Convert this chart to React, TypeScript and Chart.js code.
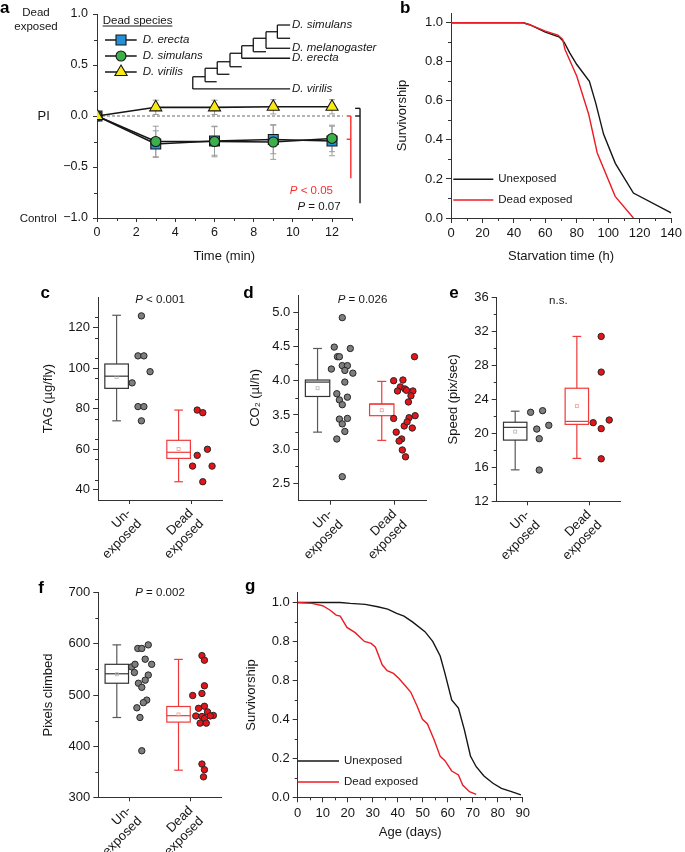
import React, { useEffect, useRef } from "react";
import { Chart, registerables } from "chart.js";

Chart.register(...registerables);

const FONT = "'Liberation Sans', Arial, Helvetica, sans-serif";

// ===== Panel a: preference index over time =====
const aTimes = [0, 3, 6, 9, 12];
const aErecta = [0, -0.275, -0.245, -0.23, -0.245];
const aErectaErr = [0, 0.13, 0.14, 0.14, 0.145];
const aSimulans = [0, -0.25, -0.25, -0.255, -0.22];
const aSimulansErr = [0, 0.15, 0.15, 0.17, 0.13];
const aVirilis = [0, 0.085, 0.085, 0.09, 0.09];
const aVirilisErr = [0, 0.07, 0.07, 0.07, 0.07];
const aXTicks = [0, 2, 4, 6, 8, 10, 12];
const aXTickLabels = ["0", "2", "4", "6", "8", "10", "12"];
const aYTicks = [-1, -0.5, 0, 0.5, 1];
const aYTickLabels = ["\u22121.0", "\u22120.5", "0.0", "0.5", "1.0"];
const aLegend = ["D. erecta", "D. simulans", "D. virilis"];
const aTreeTaxa = ["D. simulans", "D. melanogaster", "D. erecta", "D. virilis"];

// ===== Panel b: starvation survivorship =====
const bHoursUn = [0, 46, 50, 60, 69, 72, 75.5, 80, 88, 92, 97, 104.5, 116, 140];
const bSurvUn = [1, 1, 0.99, 0.952, 0.926, 0.9, 0.846, 0.786, 0.7, 0.59, 0.43, 0.28, 0.128, 0.026];
const bHoursDead = [0, 46, 50, 60, 68, 71, 72.5, 80, 87.6, 93, 104.4, 116];
const bSurvDead = [1, 1, 0.99, 0.957, 0.937, 0.915, 0.863, 0.726, 0.53, 0.333, 0.111, 0];
const bXTicks = [0, 20, 40, 60, 80, 100, 120, 140];
const bXTickLabels = ["0", "20", "40", "60", "80", "100", "120", "140"];
const survTicks = [0, 0.2, 0.4, 0.6, 0.8, 1.0];
const bYTickLabels = ["0.0", "0.2", "0.4", "0.6", "0.8", "1.0"];
const groupNames = ["Unexposed", "Dead exposed"];

// ===== Box panels: shared categories =====
const boxCategories = [["Un-", "exposed"], ["Dead", "exposed"]];
const categoryTicks = [1, 3];
const boxCenters = [0.6, 2.6];

// ===== Panel c: TAG =====
const cUnX = [1.4, 1.29, 1.48, 1.68, 1.1, 1.29, 1.48, 1.4];
const cUnY = [125.7, 106, 106, 98.2, 92.7, 81, 81, 74];
const cDeadX = [3.2, 3.38, 3.2, 3.53, 3.05, 3.68, 3.38];
const cDeadY = [79.3, 78, 57, 60, 51.7, 51.7, 44];
const cUnBox = [74, 90, 96, 102, 126, 95.6]; // min, q1, median, q3, max, mean
const cDeadBox = [44, 55.5, 58.5, 64.4, 79.3, 60.1];
const cYTicks = [40, 60, 80, 100, 120];
const cYTickLabels = ["40", "60", "80", "100", "120"];

// ===== Panel d: CO2 =====
const dUnX = [1.37, 1.12, 1.22, 1.28, 1.62, 1.03, 1.37, 1.53, 1.7, 1.45, 1.45, 1.2, 1.28, 1.53, 1.37, 1.28, 1.53, 1.37, 1.45, 1.2, 1.37];
const dUnY = [4.92, 4.49, 4.35, 4.35, 4.47, 4.17, 4.22, 4.22, 4.11, 4.15, 3.98, 3.81, 3.72, 3.76, 3.65, 3.44, 3.45, 3.37, 3.26, 3.15, 2.6];
const dDeadX = [3.62, 2.97, 3.26, 3.18, 3.32, 3.09, 3.57, 3.37, 3.51, 3.43, 2.97, 3.45, 3.64, 3.3, 3.39, 3.55, 3.05, 3.22, 3.14, 3.24, 3.34];
const dDeadY = [4.35, 4.0, 4.01, 3.91, 3.88, 3.85, 3.85, 3.86, 3.78, 3.69, 3.45, 3.46, 3.49, 3.34, 3.4, 3.31, 3.25, 3.15, 3.12, 2.99, 2.89];
const dUnBox = [3.25, 3.77, 3.98, 4.01, 4.47, 3.89];
const dDeadBox = [3.13, 3.49, 3.66, 3.66, 3.99, 3.57];
const dYTicks = [2.5, 3.0, 3.5, 4.0, 4.5, 5.0];
const dYTickLabels = ["2.5", "3.0", "3.5", "4.0", "4.5", "5.0"];

// ===== Panel e: speed =====
const eUnX = [1.1, 1.49, 1.3, 1.69, 1.38, 1.38];
const eUnY = [22.47, 22.66, 20.5, 20.94, 19.37, 15.68];
const eDeadX = [3.39, 3.39, 3.13, 3.65, 3.39, 3.39];
const eDeadY = [31.4, 27.2, 21.25, 21.56, 20.55, 17.0];
const eUnBox = [15.7, 19.2, 20.7, 21.3, 22.6, 20.2];
const eDeadBox = [17.05, 21.05, 21.4, 25.3, 31.4, 23.2];
const eYTicks = [12, 16, 20, 24, 28, 32, 36];
const eYTickLabels = ["12", "16", "20", "24", "28", "32", "36"];

// ===== Panel f: climbing =====
const fUnX = [1.28, 1.41, 1.62, 1.52, 1.08, 1.19, 1.73, 1.17, 1.62, 1.52, 1.3, 1.41, 1.57, 1.46, 1.25, 1.35, 1.41];
const fUnY = [591, 591, 598, 570, 555, 560, 560, 544, 539, 529, 523, 515, 490, 485, 475, 456, 391];
const fDeadX = [3.36, 3.44, 3.44, 3.36, 3.06, 3.44, 3.25, 3.54, 3.16, 3.36, 3.73, 3.63, 3.44, 3.3, 3.5, 3.36, 3.44, 3.41];
const fDeadY = [577, 568, 518, 503, 499, 478, 474, 467, 459, 458, 460, 459, 454, 445, 445, 365, 354, 340];
const fUnBox = [456, 523, 541.5, 560, 598, 540.5];
const fDeadBox = [353, 447, 459.6, 477.5, 569.6, 462];
const fYTicks = [300, 400, 500, 600, 700];
const fYTickLabels = ["300", "400", "500", "600", "700"];

// ===== Panel g: lifespan =====
const gAgeUn = [0, 17, 21, 27, 32, 36, 39.6, 42.5, 45.9, 50.9, 54, 57, 58.9, 61.6, 64.3, 66.7, 69.1, 71.4, 74.5, 78.1, 81.5, 85.5, 89.3];
const gSurvUn = [1, 1, 0.995, 0.99, 0.978, 0.966, 0.944, 0.93, 0.9, 0.85, 0.8, 0.725, 0.636, 0.5, 0.458, 0.345, 0.212, 0.157, 0.109, 0.072, 0.046, 0.029, 0.012];
const gAgeDead = [0, 5.6, 10, 13, 15.4, 17, 19.7, 23, 26.7, 29.4, 31.1, 33.8, 35.8, 38.3, 40.5, 42.5, 45.2, 47.7, 49.9, 51.9, 54.6, 57, 58.9, 61.6, 64.3, 66, 68.7, 71.4];
const gSurvDead = [1, 0.995, 0.983, 0.96, 0.935, 0.93, 0.872, 0.845, 0.8, 0.79, 0.77, 0.68, 0.65, 0.636, 0.61, 0.58, 0.54, 0.47, 0.4, 0.376, 0.294, 0.21, 0.188, 0.135, 0.115, 0.063, 0.029, 0.015];
const gXTicks = [0, 10, 20, 30, 40, 50, 60, 70, 80, 90];
const gXTickLabels = ["0", "10", "20", "30", "40", "50", "60", "70", "80", "90"];
const gYTickLabels = ["0.0", "0.2", "0.4", "0.8", "0.8", "1.0"];

// ===== styles =====
const INK = "#161616";
const RED = "#ec1c24";
const BLUE = "#2490d8";
const GREEN = "#3cae4a";
const YELLOW = "#fbea12";
const UN_BOX = "#333333";
const UN_WHISK = "#595959";
const UN_MEAN = "#b5b5b5";
const DEAD_BOX = "#f03a3a";
const DEAD_MEAN = "#f49a9a";
const UN_DOT = "#7e7e7e";
const DEAD_DOT = "#e4141b";
const DOT_EDGE = "#262626";

const pts = (xs: number[], ys: number[]) => xs.map((x, i) => ({ x, y: ys[i] }));
const between = (min: number, max: number, step: number, majors: number[]) => {
  const out: number[] = [];
  for (let v = min; v <= max + 1e-9; v += step) {
    const r = Math.round(v * 1000) / 1000;
    if (!majors.some((m) => Math.abs(m - r) < 1e-6)) out.push(r);
  }
  return out;
};

function seg(ctx: CanvasRenderingContext2D, x1: number, y1: number, x2: number, y2: number) {
  ctx.beginPath();
  ctx.moveTo(x1, y1);
  ctx.lineTo(x2, y2);
  ctx.stroke();
}

function txt(ctx: any, s: string, x: number, y: number, o: any = {}) {
  ctx.font = `${o.italic ? "italic " : ""}${o.bold ? "bold " : ""}${o.size || 12}px ${FONT}`;
  ctx.fillStyle = o.color || INK;
  ctx.textAlign = o.align || "left";
  ctx.textBaseline = o.baseline || "middle";
  ctx.fillText(s, x, y);
}

function mixed(ctx: any, parts: [string, boolean][], x: number, y: number, align: string, size: number, color: string) {
  const widths = parts.map(([s, it]) => {
    ctx.font = `${it ? "italic " : ""}${size}px ${FONT}`;
    return ctx.measureText(s).width;
  });
  const w = widths.reduce((a, b) => a + b, 0);
  let cx = align === "right" ? x - w : align === "center" ? x - w / 2 : x;
  parts.forEach(([s, it], i) => {
    txt(ctx, s, cx, y, { italic: it, size, color });
    cx += widths[i];
  });
}

function letter(ctx: any, ch: string, x: number, y: number) {
  txt(ctx, ch, x, y, { bold: true, size: 17, baseline: "alphabetic", color: "#000" });
}

function minor(chart: any, id: string, vals: number[], len: number) {
  const s = chart.scales[id];
  const ctx = chart.ctx;
  ctx.strokeStyle = "#333";
  ctx.lineWidth = 1;
  vals.forEach((v) => {
    const p = Math.round(s.getPixelForValue(v)) + 0.5;
    if (s.isHorizontal()) seg(ctx, p, s.top, p, s.top + len);
    else seg(ctx, s.right - len, p, s.right, p);
  });
}

function axis(o: any) {
  const horiz = o.horizontal;
  return {
    type: "linear",
    position: horiz ? "bottom" : "left",
    min: o.min,
    max: o.max,
    afterBuildTicks: (s: any) => {
      s.ticks = o.ticks.map((v: number) => ({ value: v }));
    },
    afterFit: (s: any) => {
      if (horiz) s.height = o.size;
      else s.width = o.size;
    },
    ticks: {
      autoSkip: false,
      maxRotation: o.rotation || 0,
      minRotation: o.rotation || 0,
      padding: o.pad ?? 3,
      color: INK,
      font: { size: o.fontSize ?? 13, family: FONT, lineHeight: o.lineHeight ?? 1.2 },
      callback: (_v: any, i: number) => o.labels[i],
    },
    grid: {
      display: true,
      drawOnChartArea: false,
      drawTicks: true,
      tickLength: o.tickLen ?? 5,
      color: "#333",
      tickColor: "#333",
      lineWidth: 1,
    },
    border: { display: true, color: "#333", width: 1 },
    title: o.title
      ? {
          display: true,
          text: o.title,
          color: INK,
          font: { size: 13, family: FONT, lineHeight: 1.2 },
          padding: { top: 0, bottom: o.titlePad ?? 0 },
        }
      : { display: false },
  };
}

function baseOptions(padding: any, x: any, y: any) {
  return {
    responsive: false,
    maintainAspectRatio: false,
    animation: false,
    events: [],
    layout: { padding, autoPadding: false },
    plugins: { legend: { display: false }, tooltip: { enabled: false }, title: { display: false } },
    scales: { x, y },
  };
}

function lineLegend(ctx: any, ca: any, x0: number, x1: number, tx: number, y1: number, y2: number) {
  ctx.lineWidth = 1.5;
  ctx.strokeStyle = INK;
  seg(ctx, ca.left + x0, ca.bottom - y1, ca.left + x1, ca.bottom - y1);
  ctx.strokeStyle = RED;
  seg(ctx, ca.left + x0, ca.bottom - y2, ca.left + x1, ca.bottom - y2);
  txt(ctx, groupNames[0], ca.left + tx, ca.bottom - y1, { size: 11.5 });
  txt(ctx, groupNames[1], ca.left + tx, ca.bottom - y2, { size: 11.5 });
}

function marker(ctx: any, kind: string, x: number, y: number, fill: string) {
  ctx.fillStyle = fill;
  ctx.strokeStyle = INK;
  ctx.lineWidth = 1.1;
  ctx.beginPath();
  if (kind === "rect") ctx.rect(x - 5, y - 5, 10, 10);
  else if (kind === "circle") ctx.arc(x, y, 5, 0, Math.PI * 2);
  else {
    ctx.moveTo(x, y - 7);
    ctx.lineTo(x + 6.1, y + 3.5);
    ctx.lineTo(x - 6.1, y + 3.5);
    ctx.closePath();
  }
  ctx.fill();
  ctx.stroke();
}

// ---------- panel a ----------
const treeSegments = [
  [4.89, 0.385, 4.89, 0.265], [4.89, 0.265, 9.86, 0.265], [4.89, 0.385, 5.52, 0.385],
  [5.52, 0.468, 5.52, 0.336], [5.52, 0.336, 6.11, 0.336], [5.52, 0.468, 6.14, 0.468],
  [6.14, 0.532, 6.14, 0.409], [6.14, 0.409, 6.76, 0.409], [6.14, 0.532, 6.79, 0.532],
  [6.79, 0.615, 6.79, 0.483], [6.79, 0.483, 7.39, 0.483], [6.79, 0.615, 7.39, 0.615],
  [7.39, 0.689, 7.39, 0.566], [7.39, 0.566, 9.86, 0.566], [7.39, 0.689, 7.98, 0.689],
  [7.98, 0.762, 7.98, 0.63], [7.98, 0.63, 8.63, 0.63], [7.98, 0.762, 8.63, 0.762],
  [8.63, 0.826, 8.63, 0.664], [8.63, 0.664, 9.86, 0.664], [8.63, 0.826, 9.21, 0.826],
  [9.21, 0.892, 9.21, 0.762], [9.21, 0.892, 9.86, 0.892], [9.21, 0.762, 9.86, 0.762],
];
const treeLabelY = [0.892, 0.664, 0.566, 0.265];

function makeA() {
  const ds = (label: string, ys: number[], style: string, fill: string, r: number, order: number) => ({
    label,
    data: pts(aTimes, ys),
    showLine: true,
    borderColor: INK,
    borderWidth: 1.6,
    pointStyle: style,
    pointRadius: r,
    pointBackgroundColor: fill,
    pointBorderColor: INK,
    pointBorderWidth: 1.1,
    order,
  });
  return {
    type: "scatter",
    data: {
      datasets: [
        ds(aLegend[0], aErecta, "rect", BLUE, 7, 2),
        ds(aLegend[1], aSimulans, "circle", GREEN, 5, 1),
        ds(aLegend[2], aVirilis, "triangle", YELLOW, 7, 0),
      ],
    },
    options: baseOptions(
      { left: 0, top: 14, right: 43.4, bottom: 0 },
      axis({ horizontal: true, min: 0, max: 13, ticks: aXTicks, labels: aXTickLabels, size: 52, title: "Time (min)", titlePad: 6.2, fontSize: 12.5, tickLen: 4 }),
      axis({ horizontal: false, min: -1, max: 1, ticks: aYTicks, labels: aYTickLabels, size: 97, fontSize: 12.5, pad: 5, tickLen: 4 })
    ),
    plugins: [
      {
        id: "extrasA",
        beforeDatasetsDraw(chart: any) {
          const ctx = chart.ctx;
          const X = chart.scales.x;
          const Y = chart.scales.y;
          ctx.save();
          ctx.strokeStyle = "#444";
          ctx.lineWidth = 0.8;
          ctx.setLineDash([3, 2]);
          seg(ctx, X.getPixelForValue(0), Y.getPixelForValue(0), X.getPixelForValue(12.56), Y.getPixelForValue(0));
          ctx.setLineDash([]);
          ctx.strokeStyle = "#9c9c9c";
          ctx.lineWidth = 1;
          const sets: [number[], number[]][] = [[aErecta, aErectaErr], [aSimulans, aSimulansErr], [aVirilis, aVirilisErr]];
          sets.forEach(([m, e]) =>
            aTimes.forEach((t, i) => {
              if (!e[i]) return;
              const px = X.getPixelForValue(t);
              const top = Y.getPixelForValue(m[i] + e[i]);
              const bot = Y.getPixelForValue(m[i] - e[i]);
              seg(ctx, px, top, px, bot);
              seg(ctx, px - 3, top, px + 3, top);
              seg(ctx, px - 3, bot, px + 3, bot);
            })
          );
          ctx.restore();
        },
        afterDraw(chart: any) {
          const ctx = chart.ctx;
          const X = chart.scales.x;
          const Y = chart.scales.y;
          const ca = chart.chartArea;
          const px = (v: number) => X.getPixelForValue(v);
          const py = (v: number) => Y.getPixelForValue(v);
          ctx.save();
          minor(chart, "x", between(0, 13, 1, aXTicks), 3);
          minor(chart, "y", between(-1, 1, 0.25, aYTicks), 3);
          // side labels
          txt(ctx, "Dead", ca.left - 61, py(1) - 0.7, { size: 11.5, align: "center" });
          txt(ctx, "exposed", ca.left - 61, py(1) + 13, { size: 11.5, align: "center" });
          txt(ctx, "PI", ca.left - 53.3, py(0), { size: 13, align: "center" });
          txt(ctx, "Control", ca.left - 40.3, py(-1) + 1, { size: 11.5, align: "right" });
          // legend
          txt(ctx, "Dead species", ca.left + 5.7, ca.top + 6.5, { size: 11.5 });
          ctx.strokeStyle = INK;
          ctx.lineWidth = 1;
          ctx.font = `11.5px ${FONT}`;
          const w = ctx.measureText("Dead species").width;
          seg(ctx, ca.left + 5.7, ca.top + 12, ca.left + 5.7 + w, ca.top + 12);
          const kinds = ["rect", "circle", "triangle"];
          const fills = [BLUE, GREEN, YELLOW];
          aLegend.forEach((name, i) => {
            const yy = ca.top + 26 + i * 16;
            ctx.strokeStyle = INK;
            ctx.lineWidth = 1.5;
            seg(ctx, ca.left + 8, yy, ca.left + 39.7, yy);
            marker(ctx, kinds[i], ca.left + 24, yy, fills[i]);
            txt(ctx, name, ca.left + 45.7, yy, { size: 11.5, italic: true });
          });
          // tree
          ctx.strokeStyle = INK;
          ctx.lineWidth = 1.3;
          treeSegments.forEach(([x1, y1, x2, y2]) => seg(ctx, px(x1), py(y1), px(x2), py(y2)));
          aTreeTaxa.forEach((name, i) => txt(ctx, name, px(9.96), py(treeLabelY[i]), { size: 11.5, italic: true }));
          // significance brackets
          ctx.strokeStyle = "#ff2a2a";
          ctx.lineWidth = 1.4;
          seg(ctx, px(12.96), py(0), px(12.96), py(-0.611));
          seg(ctx, px(12.75), py(0), px(12.96), py(0));
          seg(ctx, px(12.75), py(-0.228), px(12.96), py(-0.228));
          ctx.strokeStyle = INK;
          seg(ctx, px(13.43), py(0.075), px(13.43), py(-0.856));
          seg(ctx, px(13.18), py(0.075), px(13.43), py(0.075));
          seg(ctx, px(13.18), py(0), px(13.43), py(0));
          mixed(ctx, [["P", true], [" < 0.05", false]], px(12.05), py(-0.732), "right", 11.5, "#ff2a2a");
          mixed(ctx, [["P", true], [" = 0.07", false]], px(12.44), py(-0.895), "right", 11.5, INK);
          letter(ctx, "a", 0, 13);
          ctx.restore();
        },
      },
    ],
  };
}

// ---------- panel b ----------
function makeB() {
  return {
    type: "scatter",
    data: {
      datasets: [
        { label: groupNames[1], data: pts(bHoursDead, bSurvDead), showLine: true, borderColor: RED, borderWidth: 1.4, pointRadius: 0 },
        { label: groupNames[0], data: pts(bHoursUn, bSurvUn), showLine: true, borderColor: INK, borderWidth: 1.4, pointRadius: 0 },
      ],
    },
    options: baseOptions(
      { left: 30, top: 13, right: 12, bottom: 0 },
      axis({ horizontal: true, min: 0, max: 140, ticks: bXTicks, labels: bXTickLabels, size: 57, title: "Starvation time (h)", titlePad: 11.2 }),
      axis({ horizontal: false, min: 0, max: 1.05, ticks: survTicks, labels: bYTickLabels, size: 56, title: "Survivorship" })
    ),
    plugins: [
      {
        id: "extrasB",
        afterDraw(chart: any) {
          const ctx = chart.ctx;
          ctx.save();
          minor(chart, "x", between(0, 140, 10, bXTicks), 3);
          minor(chart, "y", between(0, 1, 0.1, survTicks), 3);
          lineLegend(ctx, chart.chartArea, 2.3, 42.3, 47.3, 38.7, 18);
          letter(ctx, "b", 35, 13);
          ctx.restore();
        },
      },
    ],
  };
}

// ---------- box panels ----------
function drawBox(chart: any, st: number[], xc: number, col: string, wcol: string, mcol: string) {
  const ctx = chart.ctx;
  const X = chart.scales.x;
  const Y = chart.scales.y;
  const [mn, q1, med, q3, mx, mean] = st;
  const px = (v: number) => X.getPixelForValue(v);
  const py = (v: number) => Y.getPixelForValue(v);
  const cx = px(xc);
  ctx.lineWidth = 1.2;
  ctx.strokeStyle = wcol;
  seg(ctx, cx, py(q3), cx, py(mx));
  seg(ctx, cx, py(q1), cx, py(mn));
  seg(ctx, px(xc - 0.14), py(mx), px(xc + 0.14), py(mx));
  seg(ctx, px(xc - 0.14), py(mn), px(xc + 0.14), py(mn));
  ctx.strokeStyle = col;
  ctx.strokeRect(px(xc - 0.38), py(q3), px(xc + 0.38) - px(xc - 0.38), py(q1) - py(q3));
  seg(ctx, px(xc - 0.38), py(med), px(xc + 0.38), py(med));
  ctx.lineWidth = 0.8;
  ctx.strokeStyle = mcol;
  ctx.strokeRect(cx - 1.5, py(mean) - 1.5, 3, 3);
}

function makeBox(p: any) {
  return () => ({
    type: "scatter",
    data: {
      datasets: [
        { label: groupNames[0], data: pts(p.unX, p.unY), pointRadius: 3.2, pointBackgroundColor: UN_DOT, pointBorderColor: DOT_EDGE, pointBorderWidth: 1 },
        { label: groupNames[1], data: pts(p.deadX, p.deadY), pointRadius: 3.2, pointBackgroundColor: DEAD_DOT, pointBorderColor: DOT_EDGE, pointBorderWidth: 1 },
      ],
    },
    options: baseOptions(
      p.padding,
      axis({ horizontal: true, min: 0, max: 4, ticks: categoryTicks, labels: boxCategories, size: p.xSize, rotation: 45, pad: 2, tickLen: 4, lineHeight: 1.15 }),
      axis({ horizontal: false, min: p.yMin, max: p.yMax, ticks: p.yTicks, labels: p.yLabels, size: p.ySize, title: p.yTitle })
    ),
    plugins: [
      {
        id: "box",
        beforeDatasetsDraw(chart: any) {
          chart.ctx.save();
          drawBox(chart, p.unBox, boxCenters[0], UN_BOX, UN_WHISK, UN_MEAN);
          drawBox(chart, p.deadBox, boxCenters[1], DEAD_BOX, DEAD_BOX, DEAD_MEAN);
          chart.ctx.restore();
        },
        afterDraw(chart: any) {
          const ctx = chart.ctx;
          ctx.save();
          minor(chart, "y", p.minor, 3);
          mixed(ctx, p.note, chart.scales.x.getPixelForValue(2), chart.chartArea.top + p.noteDy, "center", 11.5, INK);
          letter(ctx, p.letter, p.letterX, p.letterY);
          ctx.restore();
        },
      },
    ],
  });
}

const makeC = makeBox({
  unX: cUnX, unY: cUnY, deadX: cDeadX, deadY: cDeadY, unBox: cUnBox, deadBox: cDeadBox,
  padding: { left: 40.5, top: 17, right: 10, bottom: 0 }, ySize: 57.5, xSize: 70,
  yMin: 35, yMax: 135, yTicks: cYTicks, yLabels: cYTickLabels, minor: between(35, 135, 10, cYTicks).filter((v) => v > 35 && v < 135),
  yTitle: "TAG (\u00b5g/fly)", note: [["P", true], [" < 0.001", false]], noteDy: 3, letter: "c", letterX: 40.5, letterY: 17.7,
});
const makeD = makeBox({
  unX: dUnX, unY: dUnY, deadX: dDeadX, deadY: dDeadY, unBox: dUnBox, deadBox: dDeadBox,
  padding: { left: 15.2, top: 15, right: 5.3, bottom: 0 }, ySize: 51.1, xSize: 69.3,
  yMin: 2.25, yMax: 5.25, yTicks: dYTicks, yLabels: dYTickLabels, minor: between(2.75, 4.75, 0.5, []),
  yTitle: "CO\u2082 (\u00b5l/h)", note: [["P", true], [" = 0.026", false]], noteDy: 5, letter: "d", letterX: 11.3, letterY: 18.3,
});
const makeE = makeBox({
  unX: eUnX, unY: eUnY, deadX: eDeadX, deadY: eDeadY, unBox: eUnBox, deadBox: eDeadBox,
  padding: { left: 13.5, top: 17.3, right: 12, bottom: 0 }, ySize: 51.2, xSize: 68.7,
  yMin: 12, yMax: 36, yTicks: eYTicks, yLabels: eYTickLabels, minor: between(14, 34, 4, []),
  yTitle: "Speed (pix/sec)", note: [["n.s.", false]], noteDy: 3.4, letter: "e", letterX: 17.3, letterY: 17.7,
});
const makeF = makeBox({
  unX: fUnX, unY: fUnY, deadX: fDeadX, deadY: fDeadY, unBox: fUnBox, deadBox: fDeadBox,
  padding: { left: 40.5, top: 17.7, right: 13.3, bottom: 0 }, ySize: 57.8, xSize: 54.7,
  yMin: 300, yMax: 700, yTicks: fYTicks, yLabels: fYTickLabels, minor: between(350, 650, 100, []),
  yTitle: "Pixels climbed", note: [["P", true], [" = 0.002", false]], noteDy: 0, letter: "f", letterX: 38.3, letterY: 18.3,
});

// ---------- panel g ----------
function makeG() {
  return {
    type: "scatter",
    data: {
      datasets: [
        { label: groupNames[1], data: pts(gAgeDead, gSurvDead), showLine: true, borderColor: RED, borderWidth: 1.4, pointRadius: 0 },
        { label: groupNames[0], data: pts(gAgeUn, gSurvUn), showLine: true, borderColor: INK, borderWidth: 1.4, pointRadius: 0 },
      ],
    },
    options: baseOptions(
      { left: 3.9, top: 17.7, right: 17.3, bottom: 0 },
      axis({ horizontal: true, min: 0, max: 90, ticks: gXTicks, labels: gXTickLabels, size: 54.7, title: "Age (days)", titlePad: 12.2 }),
      axis({ horizontal: false, min: 0, max: 1.05, ticks: survTicks, labels: gYTickLabels, size: 53.8, title: "Survivorship" })
    ),
    plugins: [
      {
        id: "extrasG",
        afterDraw(chart: any) {
          const ctx = chart.ctx;
          ctx.save();
          minor(chart, "x", between(0, 90, 5, gXTicks), 3);
          minor(chart, "y", between(0, 1, 0.1, survTicks), 3);
          lineLegend(ctx, chart.chartArea, 0, 41.3, 46.3, 36.3, 15.3);
          letter(ctx, "g", 5, 16);
          ctx.restore();
        },
      },
    ],
  };
}

function ChartCanvas({ left, top, width, height, make }: any) {
  const ref = useRef<HTMLCanvasElement>(null);
  useEffect(() => {
    const chart = new Chart(ref.current as HTMLCanvasElement, make());
    return () => chart.destroy();
  }, []);
  return (
    <canvas
      ref={ref}
      width={width}
      height={height}
      style={{ position: "absolute", left, top, width, height }}
    />
  );
}

export default function App() {
  return (
    <div style={{ position: "fixed", left: 0, top: 0, width: 685, height: 852, background: "#fff", overflow: "hidden" }}>
      <ChartCanvas left={365} top={0} width={320} height={275} make={makeB} />
      <ChartCanvas left={0} top={0} width={395} height={270} make={makeA} />
      <ChartCanvas left={0} top={280} width={232} height={290} make={makeC} />
      <ChartCanvas left={232} top={280} width={200} height={290} make={makeD} />
      <ChartCanvas left={432} top={280} width={200} height={290} make={makeE} />
      <ChartCanvas left={0} top={575} width={235} height={277} make={makeF} />
      <ChartCanvas left={240} top={575} width={300} height={277} make={makeG} />
    </div>
  );
}
